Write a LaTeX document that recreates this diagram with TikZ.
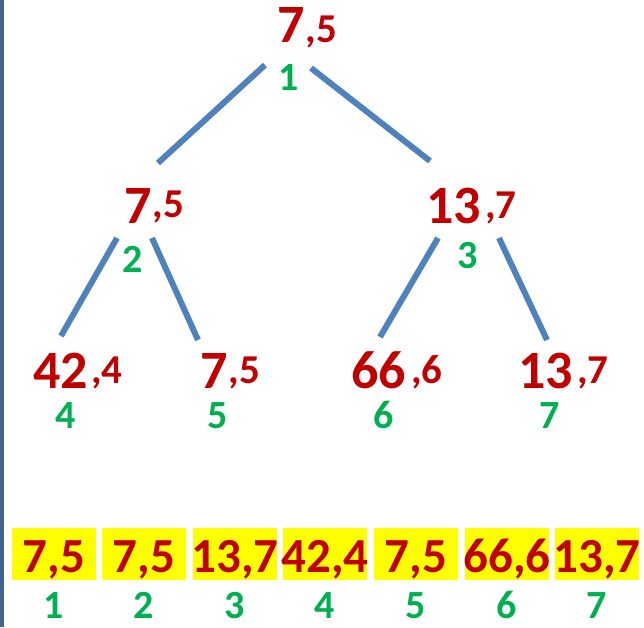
\documentclass[tikz,border=0pt]{standalone}
\usepackage{fontspec}
\setmainfont{Carlito}
\definecolor{tred}{HTML}{C00000}
\definecolor{tgreen}{HTML}{00B050}
\definecolor{tblue}{HTML}{4F81BD}
\definecolor{tbar}{HTML}{41618F}
\definecolor{tyellow}{HTML}{FFFF00}
\begin{document}
\begin{tikzpicture}[x=1pt,y=-1pt,
  bignum/.style={font=\bfseries\fontsize{54}{54}\selectfont, text=tred, inner sep=0, anchor=base west},
  smallnum/.style={font=\bfseries\fontsize{41}{41}\selectfont, text=tred, inner sep=0, anchor=base west},
  idx/.style={font=\bfseries\fontsize{40}{40}\selectfont, text=tgreen, inner sep=0, anchor=base},
  cell/.style={fill=tyellow, minimum width=84pt, minimum height=52pt, inner sep=0, anchor=north},
  celltext/.style={font=\bfseries\fontsize{49}{49}\selectfont, text=tred, inner sep=0, anchor=base},
  edgeline/.style={draw=tblue, line width=6pt, line cap=butt}]
\useasboundingbox (0,0) rectangle (644,627);
\draw[tbar, line width=4pt] (2,0) -- (2,627);

% tree labels
\node[bignum] (n1) at (277,42) {7};
\node[smallnum] (n1s) at ([xshift=0.6pt]n1.base east) {,5};
\node[idx] (i1) at (288.5,90) {1};

\node[bignum] (n2) at (124,223) {7};
\node[smallnum] (n2s) at ([xshift=0.6pt,yshift=6pt]n2.base east) {,5};
\node[idx] (i2) at (132.5,272) {2};

\node[bignum] (n3) at (426,223) {13};
\node[smallnum] (n3s) at (485,218) {,7};
\node[idx] (i3) at (468,268) {3};

\node[bignum] (n4) at (33,388) {42};
\node[smallnum] (n4s) at (91,383) {,4};
\node[idx] (i4) at (65.5,428) {4};

\node[bignum] (n5) at (200,388) {7};
\node[smallnum] (n5s) at ([xshift=0.6pt,yshift=5pt]n5.base east) {,5};
\node[idx] (i5) at (217.5,428) {5};

\node[bignum] (n6) at (351,388) {66};
\node[smallnum] (n6s) at (411,383) {,6};
\node[idx] (i6) at (384,428) {6};

\node[bignum] (n7) at (518,388) {13};
\node[smallnum] (n7s) at (577,383) {,7};
\node[idx] (i7) at (549.5,428) {7};

% edge end points
\coordinate (e1a) at (265,65);  \coordinate (e1b) at (158,163);
\coordinate (e2a) at (311,68);  \coordinate (e2b) at (430,161);
\coordinate (e3a) at (117,238); \coordinate (e3b) at (61,336);
\coordinate (e4a) at (152,238); \coordinate (e4b) at (198,340);
\coordinate (e5a) at (438,238); \coordinate (e5b) at (380,337);
\coordinate (e6a) at (499,238); \coordinate (e6b) at (547,340);
\draw[edgeline] (e1a) -- (e1b);
\draw[edgeline] (e2a) -- (e2b);
\draw[edgeline] (e3a) -- (e3b);
\draw[edgeline] (e4a) -- (e4b);
\draw[edgeline] (e5a) -- (e5b);
\draw[edgeline] (e6a) -- (e6b);

% array
\foreach \k/\cx/\t in {1/54/{7,5},2/144/{7,5},3/235/{13,7},4/325/{42,4},5/416/{7,5},6/507/{66,6},7/597/{13,7}}{
  \node[cell] (c\k) at (\cx,528) {};
  \node[celltext] (ct\k) at (\cx,572) {\t};
  \node[idx] (ci\k) at (\cx,618) {\k};
}
\end{tikzpicture}
\end{document}
